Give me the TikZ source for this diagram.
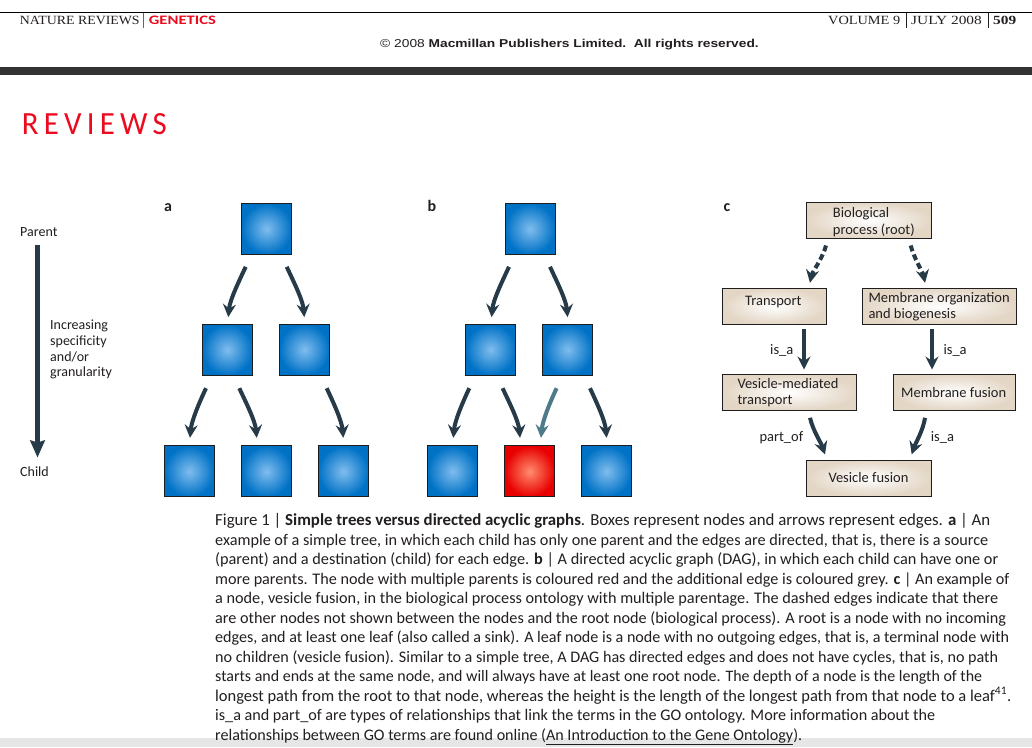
\documentclass[tikz,border=0pt]{standalone}
\usepackage{fontspec}
\usepackage{graphicx}
\setmainfont{Carlito}
\newfontfamily\headserif{Liberation Serif}
\newfontfamily\arialf{Liberation Sans}
\usetikzlibrary{arrows.meta,calc}

\definecolor{arrowc}{HTML}{263B47}
\definecolor{greyarrow}{HTML}{4E7A8A}
\definecolor{blueout}{HTML}{0072C6}
\definecolor{bluein}{HTML}{80BDEE}
\definecolor{redout}{HTML}{E80000}
\definecolor{redin}{HTML}{FF8C6E}
\definecolor{beigeout}{HTML}{E3D6C5}
\definecolor{beigein}{HTML}{FFFFFF}
\definecolor{natred}{HTML}{EB0A1E}
\definecolor{bandgray}{HTML}{333333}
\definecolor{lightband}{HTML}{E6E6E6}
\definecolor{sepbrown}{HTML}{A0522D}
\definecolor{boxline}{HTML}{1E1E1E}
\definecolor{textc}{HTML}{231F20}

\begin{document}
\begin{tikzpicture}[x=1pt,y=-1pt,
  sq/.style={rectangle, draw=boxline, line width=1pt, minimum width=50pt, minimum height=51pt, inner sep=0pt, inner color=bluein, outer color=blueout},
  redsq/.style={sq, inner color=redin, outer color=redout},
  term/.style={rectangle, draw=boxline, line width=1pt, inner sep=0pt, minimum height=36pt, inner color=beigein, outer color=beigeout},
  edge/.style={draw=arrowc, line width=4pt, -{Stealth[length=13pt,width=13pt,inset=4.5pt]}},
  greyedge/.style={edge, draw=greyarrow},
  dedge/.style={edge, dash pattern=on 6pt off 3.5pt},
  ltext/.style={anchor=base west, inner sep=0pt, text=textc, font=\fontsize{14}{16}\selectfont},
  ptext/.style={anchor=base west, inner sep=0pt, text=textc, font=\fontsize{14.5}{16}\selectfont},
  captext/.style={anchor=base west, inner sep=0pt, text=textc, font=\fontsize{16.2}{19}\selectfont},
  lbl/.style={anchor=base west, inner sep=0pt, text=textc, font=\fontsize{16}{18}\selectfont\bfseries},
  hdr/.style={anchor=base west, inner sep=0pt, text=textc}
]
\useasboundingbox (0,0) rectangle (1032,747);
\fill[white] (0,0) rectangle (1032,747);

% ---------- header ----------
\draw[black, line width=1pt] (0,12.3) -- (1032,12.3);
\node[hdr] (hnat) at (19.7,24) {\resizebox{119.8pt}{8.3pt}{\headserif NATURE REVIEWS}};
\draw[sepbrown, line width=0.9pt] (143.4,13.3) -- (143.4,28.3);
\node[hdr, text=natred] (hgen) at (148.7,24) {\resizebox{67pt}{8.5pt}{\bfseries GENETICS}};
\node[hdr] (hvol) at (828,24) {\resizebox{72pt}{8.3pt}{\headserif VOLUME 9}};
\draw[textc, line width=0.9pt] (906.6,13.3) -- (906.6,28.3);
\node[hdr] (hjul) at (911,24) {\resizebox{70.6pt}{8.3pt}{\headserif JULY 2008}};
\draw[textc, line width=0.9pt] (988,13.3) -- (988,28.3);
\node[hdr] (hpag) at (993,24) {\resizebox{23pt}{8.3pt}{\headserif\bfseries 509}};
\node[hdr] (copy) at (380,47.3) {\resizebox{378.6pt}{8.3pt}{\arialf \textcopyright{} 2008 \textbf{Macmillan Publishers Limited.\ \ All rights reserved.}}};
\fill[bandgray] (0,66.7) rectangle (1032,75);
\node[hdr, text=natred] (rev) at (21.7,134.3) {\resizebox{145pt}{21pt}{R\kern0.17em E\kern0.17em V\kern0.17em I\kern0.17em E\kern0.17em W\kern0.17em S}};

% ---------- left scale ----------
\node[ltext] (par) at (20,236.7) {Parent};
\node[ltext] (chi) at (20,476.7) {Child};
\node[ltext] (inc1) at (50,329.3) {Increasing};
\node[ltext] (inc2) at (50,345) {specificity};
\node[ltext] (inc3) at (50,361) {and/or};
\node[ltext] (inc4) at (50,376.7) {granularity};
\coordinate (scaletop) at (37.5,245);
\coordinate (scalebot) at (37.5,457.5);
\draw[draw=arrowc, line width=4.7pt, -{Stealth[length=17pt,width=14.5pt,inset=2pt]}] (scaletop) -- (scalebot);

% ---------- panel a ----------
\node[lbl] (la) at (164,211.7) {a};
\node[sq] (a0) at (266.7,228.8) {};
\node[sq] (a1) at (227.3,349.6) {};
\node[sq] (a2) at (304.3,349.6) {};
\node[sq] (a3) at (189.3,471.4) {};
\node[sq] (a4) at (266.3,471.4) {};
\node[sq] (a5) at (343.3,471.4) {};
\draw[edge] ($(a0.south)+(-21,12)$) .. controls +(-7,15) and +(1.5,-17) .. ($(a1.north)+(1,-6.5)$);
\draw[edge] ($(a0.south)+(20,12)$) .. controls +(7,15) and +(-1.5,-17) .. ($(a2.north)+(0,-6.5)$);
\draw[edge] ($(a1.south)+(-21.3,12.6)$) .. controls +(-7,15) and +(1.5,-17) .. ($(a3.north)+(0.7,-7.6)$);
\draw[edge] ($(a1.south)+(12,12.6)$) .. controls +(7,15) and +(-1.5,-17) .. ($(a4.north)+(-9.6,-7.6)$);
\draw[edge] ($(a2.south)+(22.4,12.6)$) .. controls +(7,15) and +(-1.5,-17) .. ($(a5.north)+(0,-7.6)$);

% ---------- panel b ----------
\node[lbl] (lb) at (427.3,211.7) {b};
\node[sq] (b0) at (530,228.8) {};
\node[sq] (b1) at (490.6,349.6) {};
\node[sq] (b2) at (567.6,349.6) {};
\node[sq] (b3) at (452.6,471.4) {};
\node[redsq] (b4) at (529.6,471.4) {};
\node[sq] (b5) at (606.6,471.4) {};
\draw[edge] ($(b0.south)+(-21,12)$) .. controls +(-7,15) and +(1.5,-17) .. ($(b1.north)+(1,-6.5)$);
\draw[edge] ($(b0.south)+(20,12)$) .. controls +(7,15) and +(-1.5,-17) .. ($(b2.north)+(0,-6.5)$);
\draw[edge] ($(b1.south)+(-21.3,12.6)$) .. controls +(-7,15) and +(1.5,-17) .. ($(b3.north)+(0.7,-7.6)$);
\draw[edge] ($(b1.south)+(12,12.6)$) .. controls +(7,15) and +(-1.5,-17) .. ($(b4.north)+(-9.6,-7.6)$);
\draw[greyedge] ($(b2.south)+(-11,12.6)$) .. controls +(-7,15) and +(1.5,-17) .. ($(b4.north)+(11.4,-7.6)$);
\draw[edge] ($(b2.south)+(22.4,12.6)$) .. controls +(7,15) and +(-1.5,-17) .. ($(b5.north)+(0,-7.6)$);

% ---------- panel c ----------
\node[lbl] (lc) at (723.3,211.7) {c};
\node[term, minimum width=125pt] (root) at (869.2,220.3) {};
\node[term, minimum width=103.3pt] (trans) at (774.35,306.3) {};
\node[term, minimum width=153.3pt] (memorg) at (939.35,306.3) {};
\node[term, minimum width=134pt, minimum height=36.4pt] (vesmed) at (789.7,392.5) {};
\node[term, minimum width=122pt, minimum height=36.4pt] (memfus) at (954.3,392.5) {};
\node[term, minimum width=125pt] (vesfus) at (869.2,478) {};

\node[ptext] (t1a) at (832.7,217.7) {Biological};
\node[ptext] (t1b) at (832.7,234.3) {process (root)};
\node[ptext] (t2) at (745,305.5) {Transport};
\node[ptext] (t3a) at (868.3,302.3) {Membrane organization};
\node[ptext] (t3b) at (868.3,318.3) {and biogenesis};
\node[ptext] (t4a) at (737.3,388.3) {Vesicle-mediated};
\node[ptext] (t4b) at (737.3,404) {transport};
\node[ptext] (t5) at (901,397.7) {Membrane fusion};
\node[ptext] (t6) at (828.3,482.7) {Vesicle fusion};

\draw[dedge] ($(root.south)+(-43.2,6.7)$) .. controls +(-3,12) and +(2,-10) .. ($(trans.north)+(35.6,-5)$);
\draw[dedge] ($(root.south)+(41.5,6.7)$) .. controls +(3,12) and +(-2,-10) .. ($(memorg.north)+(-14.3,-5)$);
\draw[edge] ($(trans.south)+(29.65,4)$) -- ($(vesmed.north)+(14.3,-4.3)$);
\draw[edge] ($(memorg.south)+(-7.35,4)$) -- ($(memfus.north)+(-22.3,-4.3)$);
\draw[edge] ($(vesmed.south)+(20.3,6.6)$) .. controls +(3,13) and +(-4,-12) .. ($(vesfus.north)+(-44.2,-5)$);
\draw[edge] ($(memfus.south)+(-29.3,6.6)$) .. controls +(-2,13) and +(4,-12) .. ($(vesfus.north)+(42.5,-5)$);

\node[ptext] (r1) at (770,354) {is\_a};
\node[ptext] (r2) at (943.3,354) {is\_a};
\node[ptext] (r3) at (759.3,441) {part\_of};
\node[ptext] (r4) at (930.7,441) {is\_a};

% ---------- caption ----------
\fill[lightband] (0,738) rectangle (1032,747);
\node[captext] (c1) at (215,525.7) {\resizebox{775pt}{!}{Figure 1 | \textbf{Simple trees versus directed acyclic graphs}. Boxes represent nodes and arrows represent edges. \textbf{a} | An}};
\node[captext] (c2) at (215,545.2) {\resizebox{773pt}{!}{example of a simple tree, in which each child has only one parent and the edges are directed, that is, there is a source}};
\node[captext] (c3) at (215,564.7) {\resizebox{783pt}{!}{(parent) and a destination (child) for each edge. \textbf{b} | A directed acyclic graph (DAG), in which each child can have one or}};
\node[captext] (c4) at (215,584.2) {\resizebox{794pt}{!}{more parents. The node with multiple parents is coloured red and the additional edge is coloured grey. \textbf{c} | An example of}};
\node[captext] (c5) at (215,603.7) {\resizebox{783pt}{!}{a node, vesicle fusion, in the biological process ontology with multiple parentage. The dashed edges indicate that there}};
\node[captext] (c6) at (215,623.2) {\resizebox{791pt}{!}{are other nodes not shown between the nodes and the root node (biological process). A root is a node with no incoming}};
\node[captext] (c7) at (215,642.7) {\resizebox{794pt}{!}{edges, and at least one leaf (also called a sink). A leaf node is a node with no outgoing edges, that is, a terminal node with}};
\node[captext] (c8) at (215,662.2) {\resizebox{783pt}{!}{no children (vesicle fusion). Similar to a simple tree, A DAG has directed edges and does not have cycles, that is, no path}};
\node[captext] (c9) at (215,681.7) {\resizebox{767pt}{!}{starts and ends at the same node, and will always have at least one root node. The depth of a node is the length of the}};
\node[captext] (c10) at (215,701.2) {\resizebox{796pt}{!}{longest path from the root to that node, whereas the height is the length of the longest path from that node to a leaf\textsuperscript{41}.}};
\node[captext] (c11) at (215,720.7) {\resizebox{720pt}{!}{is\_a and part\_of are types of relationships that link the terms in the GO ontology. More information about the}};
\node[captext] (c12) at (215,740.2) {\resizebox{587pt}{!}{relationships between GO terms are found online (\underline{An Introduction to the Gene Ontology}).}};
\end{tikzpicture}
\end{document}
